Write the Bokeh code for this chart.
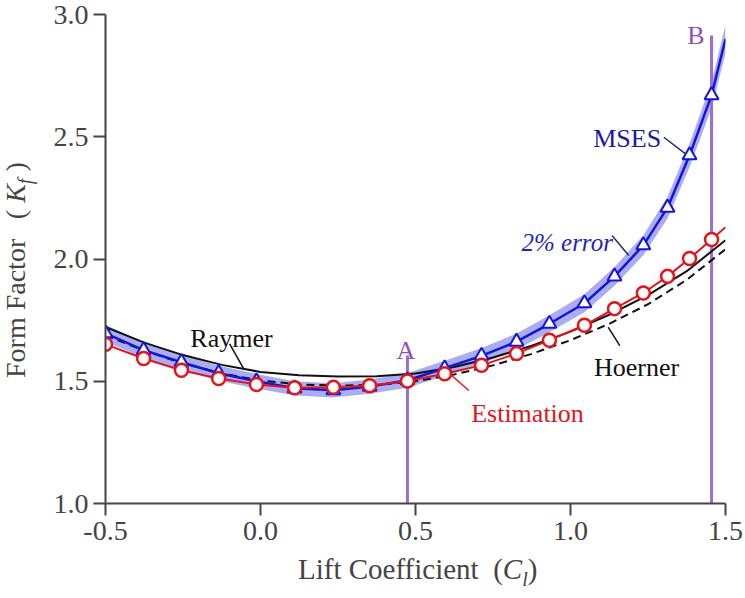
from bokeh.plotting import figure
from bokeh.models import Range1d, FixedTicker, NumeralTickFormatter, Label, Div
from bokeh.layouts import row, column
from bokeh.embed import file_html
from bokeh.resources import INLINE

# ---------------- data ----------------
# sample points (lift coefficient) of MSES and Estimation
cl_pts = [-0.5, -0.377, -0.255, -0.135, -0.013, 0.110, 0.235, 0.352, 0.474,
          0.594, 0.713, 0.826, 0.932, 1.045, 1.142, 1.235, 1.313, 1.384, 1.455]
mses = [1.696, 1.627, 1.578, 1.533, 1.500, 1.471, 1.463, 1.478, 1.504,
        1.553, 1.604, 1.662, 1.735, 1.819, 1.929, 2.056, 2.210, 2.424, 2.670]
est = [1.651, 1.593, 1.545, 1.511, 1.487, 1.473, 1.475, 1.482, 1.501,
       1.531, 1.565, 1.613, 1.668, 1.729, 1.797, 1.861, 1.929, 2.002, 2.080]
# curve end values at Cl = 1.5
cl_end = 1.5
mses_end = 2.90
est_end = 2.13

# empirical correlations
cl_grid = [-0.5, -0.375, -0.25, -0.125, 0.0, 0.125, 0.25, 0.375, 0.5,
           0.625, 0.75, 0.875, 1.0, 1.125, 1.25, 1.375, 1.5]
raymer = [1.722, 1.658, 1.607, 1.567, 1.538, 1.525, 1.519, 1.520, 1.532,
          1.558, 1.597, 1.645, 1.703, 1.772, 1.852, 1.950, 2.077]
hoerner = [1.688, 1.625, 1.573, 1.532, 1.503, 1.487, 1.482, 1.485, 1.500,
           1.528, 1.565, 1.612, 1.668, 1.735, 1.815, 1.915, 2.040]

error_frac = 0.02  # 2% error band around MSES

# design points A and B
ab_names = ["A", "B"]
ab_cl = [0.474, 1.455]
ab_top = [1.605, 2.914]

x_ticks = [-0.5, 0.0, 0.5, 1.0, 1.5]
y_ticks = [1.0, 1.5, 2.0, 2.5, 3.0]

# ---------------- style ----------------
FONT = "Liberation Serif"
RED = "#e3141c"
BLUE = "#1414d8"
BAND = "#8f92ee"
PURPLE_LINE = "#9b6fd0"
PURPLE_TXT = "#9150bb"
AXIS = "#444444"

p = figure(width=700, height=555, x_range=Range1d(-0.5, 1.5), y_range=Range1d(1.0, 3.0),
           min_border_left=60, min_border_right=20, min_border_top=14, min_border_bottom=52,
           toolbar_location=None, output_backend="svg")
p.outline_line_color = None
p.grid.visible = False
p.background_fill_color = "white"
p.border_fill_color = "white"

for ax in (p.xaxis[0], p.yaxis[0]):
    ax.axis_line_width = 2
    ax.axis_line_color = AXIS
    ax.major_tick_line_width = 2
    ax.major_tick_line_color = AXIS
    ax.major_tick_out = 12
    ax.major_tick_in = 0
    ax.minor_tick_out = 0
    ax.minor_tick_in = 0
    ax.major_label_text_font = FONT
    ax.major_label_text_font_size = "28px"
    ax.major_label_text_color = AXIS
    ax.formatter = NumeralTickFormatter(format="0.0")
p.xaxis[0].ticker = FixedTicker(ticks=x_ticks)
p.yaxis[0].ticker = FixedTicker(ticks=y_ticks)
p.xaxis[0].major_label_standoff = 6
p.yaxis[0].major_label_standoff = 5

# 2% error band
band_x = cl_pts + [cl_end]
band_mid = mses + [mses_end]
p.varea(x=band_x, y1=[v * (1 - error_frac) for v in band_mid],
        y2=[v * (1 + error_frac) for v in band_mid], fill_color=BAND, fill_alpha=0.75)

# A / B lines
p.segment(x0=ab_cl, y0=[1.0, 1.0], x1=ab_cl, y1=ab_top, line_color=PURPLE_LINE, line_width=3)

# correlations
p.line(cl_grid, raymer, line_color="#111111", line_width=2)
p.line(cl_grid, hoerner, line_color="#111111", line_width=2, line_dash="8 5")

# MSES and Estimation
p.line(cl_pts + [cl_end], mses + [mses_end], line_color=BLUE, line_width=2.5)
p.line(cl_pts + [cl_end], est + [est_end], line_color=RED, line_width=2)
p.scatter(cl_pts, mses, marker="triangle", size=14, fill_color="white",
          line_color=BLUE, line_width=2)
p.scatter(cl_pts, est, marker="circle", size=13, fill_color="white",
          line_color=RED, line_width=2.5)

# leader lines
p.segment(x0=[-0.0997], y0=[1.653], x1=[-0.0539], y1=[1.551], line_color="#111111", line_width=1.5)
p.segment(x0=[1.159], y0=[1.646], x1=[1.1213], y1=[1.721], line_color="#111111", line_width=1.5)
p.segment(x0=[0.672], y0=[1.462], x1=[0.6103], y1=[1.5305], line_color=RED, line_width=1.5)
p.segment(x0=[1.301], y0=[2.498], x1=[1.371], y1=[2.430], line_color="#2a2a70", line_width=1.5)
p.segment(x0=[1.134], y0=[2.096], x1=[1.188], y1=[2.014], line_color="#2a2a70", line_width=1.5)


def lab(x, y, text, color, size="26px", style="normal", align="center"):
    p.add_layout(Label(x=x, y=y, text=text, text_color=color, text_font=FONT,
                       text_font_size=size, text_font_style=style, text_align=align,
                       text_baseline="alphabetic"))


lab(-0.0935, 1.6736, "Raymer", "#111111")
lab(1.2129, 1.5575, "Hoerner", "#111111")
lab(0.8613, 1.3669, "Estimation", RED)
lab(1.1829, 2.4916, "MSES", "#1a1aa8")
lab(0.9893, 2.0687, "2% error", "#2424b8", size="25px", style="italic")
lab(ab_cl[0] - 0.005, 1.6258, ab_names[0], PURPLE_TXT)
lab(1.4048, 2.914, ab_names[1], PURPLE_TXT)

# ---------------- axis titles (HTML text) ----------------
XT = "font-family:'Liberation Serif'; font-size:29px; color:#444444; white-space:nowrap;"
YT = "font-family:'Liberation Serif'; font-size:28px; color:#444444; white-space:nowrap;"
SUB = "font-size:20px; line-height:0;"

x_title = Div(
    text=(f"<div style=\"{XT} line-height:29px; padding-left:298px;\">Lift Coefficient&nbsp;&nbsp;"
          f"(<i>C</i><sub style=\"{SUB}\"><i>l</i></sub>)</div>"),
    width=745, height=43, margin=(0, 0, 0, 0), styles={"overflow": "visible"})

y_title = Div(
    text=(f"<div style=\"position:relative; width:45px; height:555px;\">"
          f"<div style=\"{YT} line-height:31px; position:absolute; left:0px; top:378px; "
          f"transform-origin:0 0; transform:rotate(-90deg);\">Form Factor&nbsp;&nbsp;&thinsp;"
          f"(&nbsp;<i>K</i><sub style=\"{SUB}\"><i>f</i></sub>&nbsp;)</div></div>"),
    width=45, height=555, margin=(0, 0, 0, 0), styles={"overflow": "visible"})

layout = column(row(y_title, p, spacing=0), x_title, spacing=0)

open("out.html", "w").write(file_html(layout, INLINE))
